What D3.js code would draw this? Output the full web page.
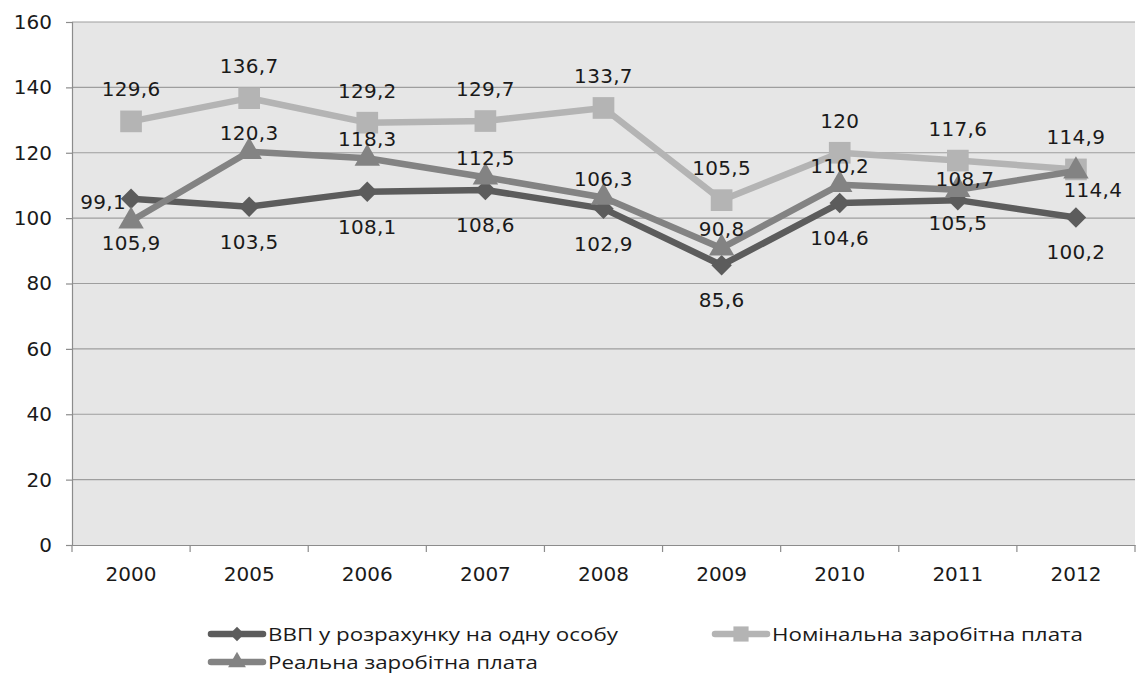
<!DOCTYPE html>
<html>
<head>
<meta charset="utf-8">
<script src="https://cdn.jsdelivr.net/npm/d3@7"></script>
<style>
  html, body { margin: 0; padding: 0; background: #fff; }
  svg { display: block; }
</style>
</head>
<body>
<div id="chart"></div>
<script>
// --- data ---
const YEARS = ['2000', '2005', '2006', '2007', '2008', '2009', '2010', '2011', '2012'];
const GDP_PER_CAPITA = [105.9, 103.5, 108.1, 108.6, 102.9, 85.6, 104.6, 105.5, 100.2];
const NOMINAL_WAGE = [129.6, 136.7, 129.2, 129.7, 133.7, 105.5, 120, 117.6, 114.9];
const REAL_WAGE = [99.1, 120.3, 118.3, 112.5, 106.3, 90.8, 110.2, 108.7, 114.4];
const Y_TICKS = [0, 20, 40, 60, 80, 100, 120, 140, 160];
const SERIES_NAMES = ['ВВП у розрахунку на одну особу', 'Номінальна заробітна плата', 'Реальна заробітна плата'];

(function () {
  const W = 1144, H = 675;
  const plot = { left: 72, right: 1135, top: 22, bottom: 545 };
  const LABEL_FONT = '"DejaVu Sans", Verdana, sans-serif';

  const series = [
    { name: SERIES_NAMES[0], values: GDP_PER_CAPITA, color: '#5c5c5c', shape: 'diamond', labelDy: 42 },
    { name: SERIES_NAMES[1], values: NOMINAL_WAGE, color: '#b4b4b4', shape: 'square', labelDy: -25 },
    { name: SERIES_NAMES[2], values: REAL_WAGE, color: '#838383', shape: 'triangle', labelDy: -12 }
  ];
  // hand-nudged labels, as placed in the original
  const labelNudge = {
    '0-0': { dy: 51 },
    '0-7': { dy: 30 },
    '2-0': { dx: -28 },
    '2-7': { dx: 7, dy: -4 },
    '2-8': { dx: 17, dy: 26 }
  };

  const svg = d3.select('#chart').append('svg')
    .attr('width', W).attr('height', H)
    .attr('viewBox', `0 0 ${W} ${H}`);

  const x = d3.scaleBand().domain(YEARS).range([plot.left, plot.right]).padding(0);
  const y = d3.scaleLinear().domain([0, 160]).range([plot.bottom, plot.top]);
  const cx = d => x(d) + x.bandwidth() / 2;

  svg.append('rect')
    .attr('x', plot.left).attr('y', plot.top)
    .attr('width', plot.right - plot.left).attr('height', plot.bottom - plot.top)
    .attr('fill', '#e6e6e6');

  svg.append('g')
    .selectAll('line')
    .data(Y_TICKS.filter(t => t > 0))
    .enter().append('line')
    .attr('x1', plot.left).attr('x2', plot.right)
    .attr('y1', d => y(d)).attr('y2', d => y(d))
    .attr('stroke', '#9e9e9e').attr('stroke-width', 1.2);

  const yAxis = svg.append('g')
    .attr('transform', `translate(${plot.left},0)`)
    .call(d3.axisLeft(y).tickValues(Y_TICKS).tickSize(6).tickPadding(14));
  const xAxis = svg.append('g')
    .attr('transform', `translate(0,${plot.bottom})`)
    .call(d3.axisBottom(x).tickSize(0).tickPadding(22));

  // category separators below the axis
  svg.append('g')
    .selectAll('line')
    .data(d3.range(YEARS.length + 1))
    .enter().append('line')
    .attr('x1', i => plot.left + i * x.bandwidth())
    .attr('x2', i => plot.left + i * x.bandwidth())
    .attr('y1', plot.bottom).attr('y2', plot.bottom + 7)
    .attr('stroke', '#8c8c8c').attr('stroke-width', 1.2);

  [yAxis, xAxis].forEach(a => {
    a.select('.domain').attr('stroke', '#8c8c8c').attr('stroke-width', 1.2);
    a.selectAll('.tick line').attr('stroke', '#8c8c8c').attr('stroke-width', 1.2);
    a.selectAll('text')
      .style('font-family', LABEL_FONT)
      .style('font-size', '20px')
      .attr('fill', '#1a1a1a');
  });

  function markerPath(shape, scale) {
    const k = scale || 1;
    if (shape === 'diamond') return d3.symbol(d3.symbolSquare, 210 * k * k)();
    if (shape === 'square') return d3.symbol(d3.symbolSquare, 470 * k * k)();
    return d3.symbol(d3.symbolTriangle, 280 * k * k)();
  }

  const line = d3.line()
    .x((d, i) => cx(YEARS[i]))
    .y(d => y(d));

  series.forEach(s => {
    const g = svg.append('g');
    g.append('path')
      .datum(s.values)
      .attr('fill', 'none')
      .attr('stroke', s.color)
      .attr('stroke-width', 6.5)
      .attr('stroke-linejoin', 'round')
      .attr('d', line);
    g.selectAll('path.marker')
      .data(s.values)
      .enter().append('path')
      .attr('class', 'marker')
      .attr('d', markerPath(s.shape))
      .attr('fill', s.color)
      .attr('transform', (d, i) =>
        `translate(${cx(YEARS[i])},${y(d)})` + (s.shape === 'diamond' ? 'rotate(45)' : ''));
  });

  series.forEach((s, si) => {
    svg.append('g')
      .selectAll('text')
      .data(s.values)
      .enter().append('text')
      .attr('x', (d, i) => cx(YEARS[i]) + ((labelNudge[si + '-' + i] || {}).dx || 0))
      .attr('y', (d, i) => {
        const n = labelNudge[si + '-' + i] || {};
        return y(d) + (n.dy !== undefined ? n.dy : s.labelDy);
      })
      .attr('text-anchor', 'middle')
      .style('font-family', LABEL_FONT)
      .style('font-size', '20px')
      .style('letter-spacing', '0.3px')
      .attr('fill', '#1a1a1a')
      .text(d => String(d).replace('.', ','));
  });

  // legend
  const legendPos = [
    { x: 208, y: 634, len: 58, textW: 350 },
    { x: 712, y: 634, len: 58, textW: 311 },
    { x: 208, y: 662, len: 58, textW: 270 }
  ];
  series.forEach((s, i) => {
    const p = legendPos[i];
    const g = svg.append('g').attr('transform', `translate(${p.x},${p.y})`);
    g.append('line')
      .attr('x1', 3).attr('x2', p.len - 3)
      .attr('stroke', s.color).attr('stroke-width', 6.5)
      .attr('stroke-linecap', 'round');
    g.append('path')
      .attr('d', markerPath(s.shape, 0.7))
      .attr('fill', s.color)
      .attr('transform', `translate(${p.len / 2},0)` + (s.shape === 'diamond' ? 'rotate(45)' : ''));
    g.append('text')
      .attr('x', p.len + 2).attr('y', 7)
      .attr('textLength', p.textW)
      .attr('lengthAdjust', 'spacingAndGlyphs')
      .style('font-family', '"Open Sans", Lato, sans-serif')
      .style('font-size', '19px')
      .attr('fill', '#1a1a1a')
      .text(s.name);
  });
})();
</script>
</body>
</html>
